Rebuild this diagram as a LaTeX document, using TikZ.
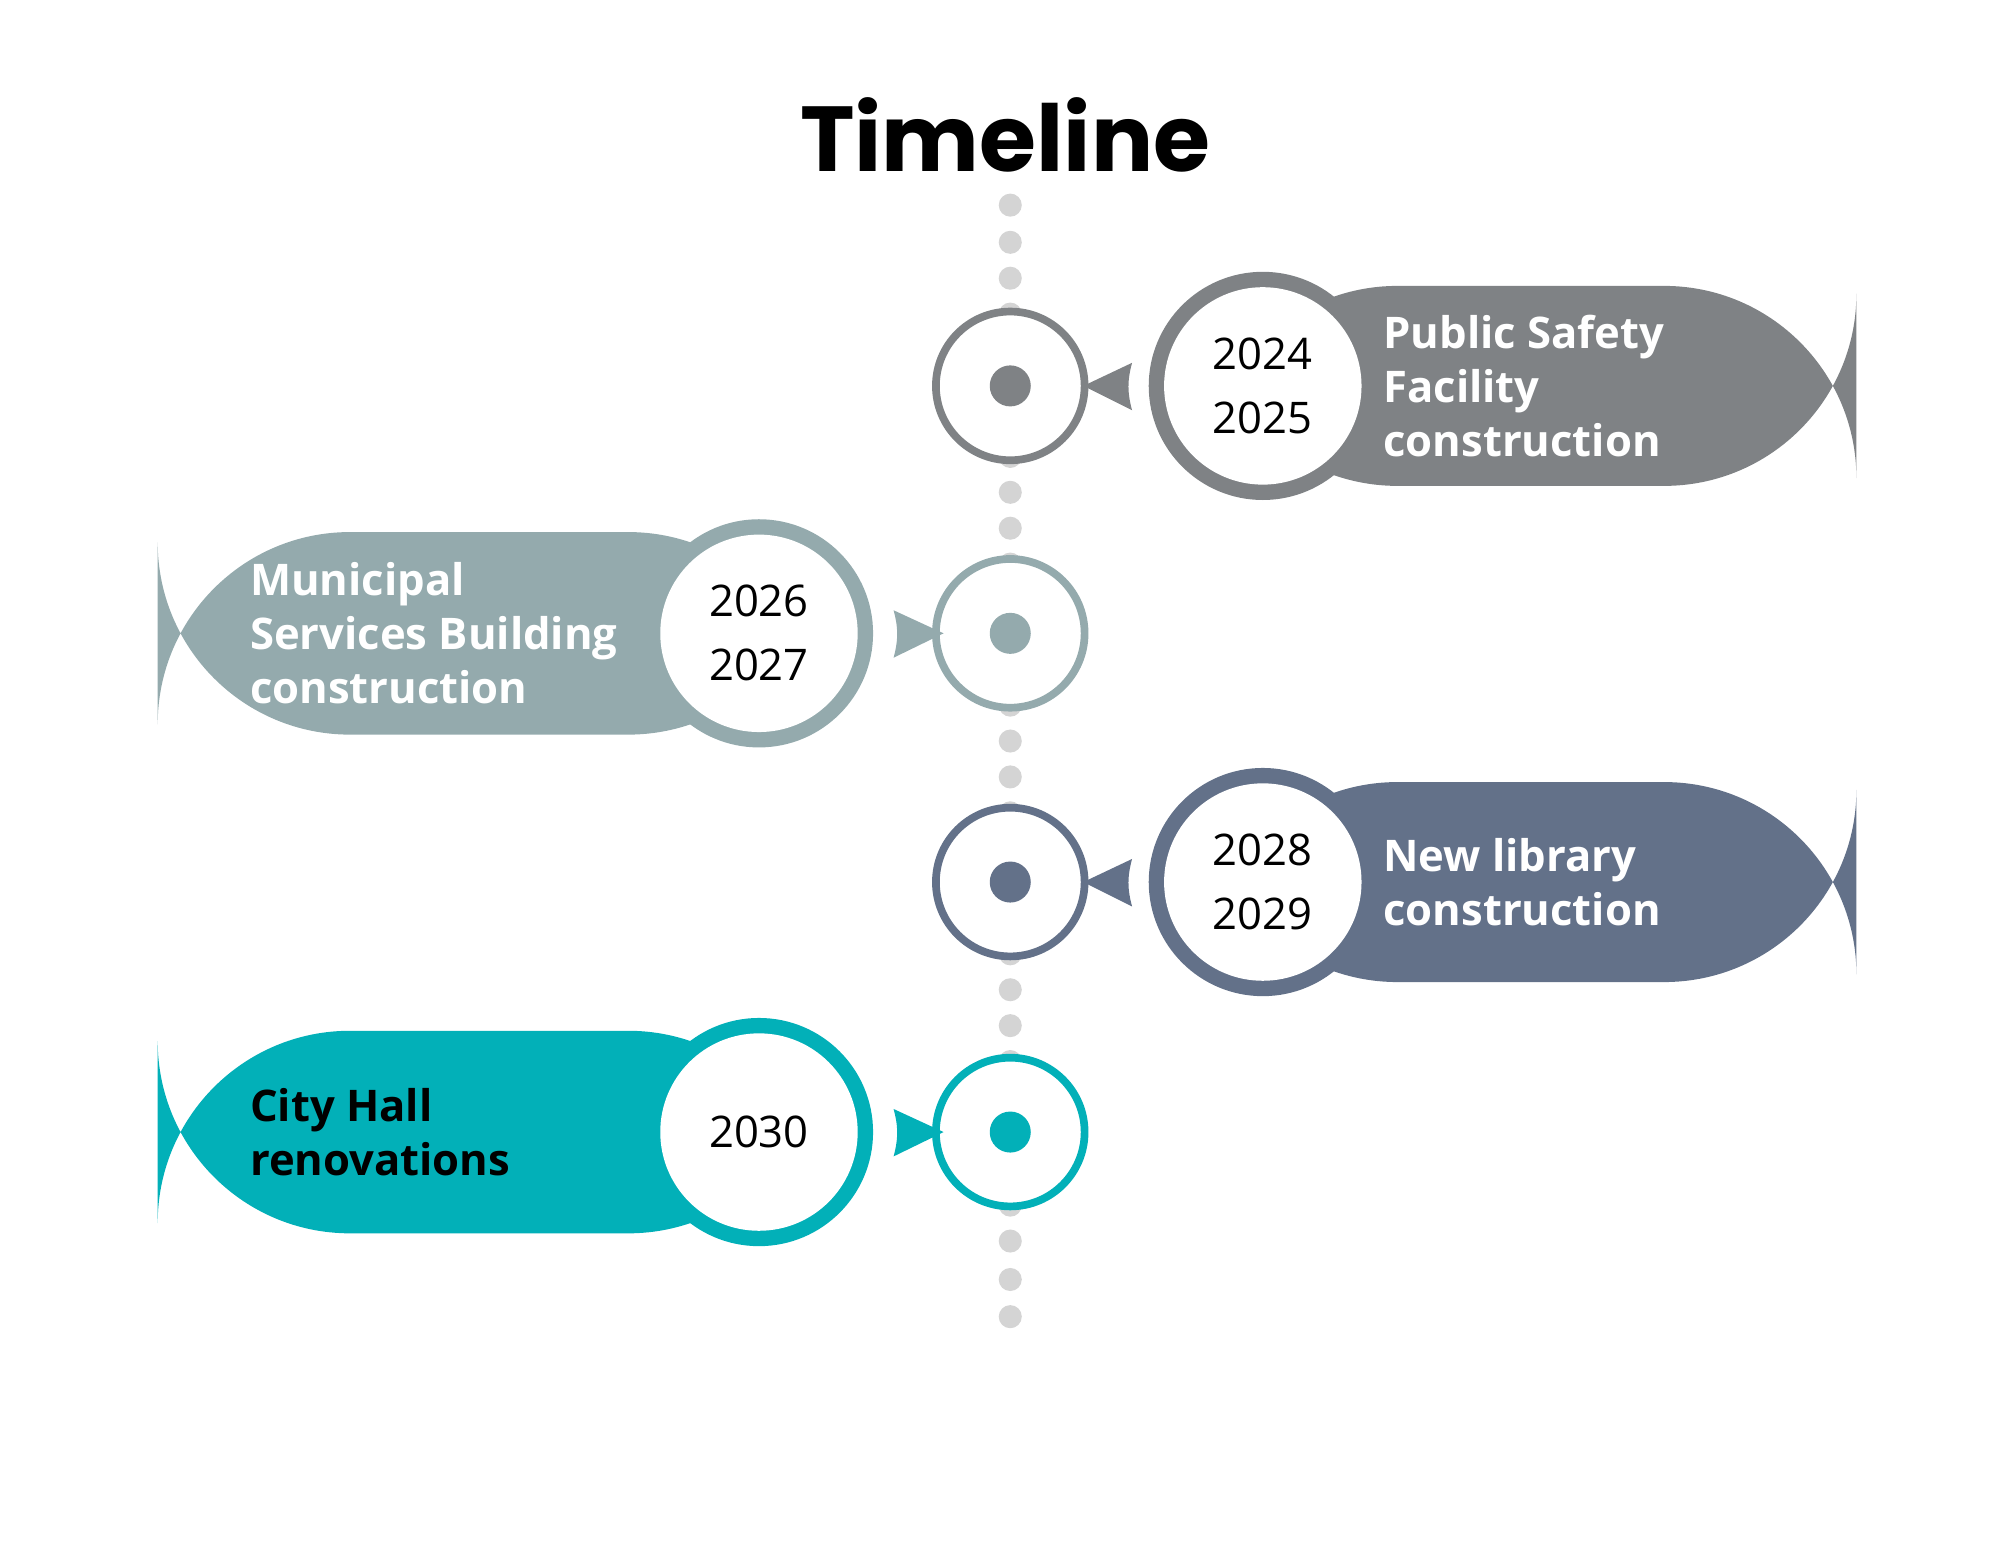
\documentclass[tikz,border=0pt]{standalone}
\usepackage{fontspec}
\setmainfont{Open Sans}
\newfontfamily\titlefont{Poppins}
\begin{document}
\begin{tikzpicture}[x=0.5pt,y=-0.5pt,
  dot/.style={circle,fill=black!17,minimum size=9pt,inner sep=0pt},
  lbl/.style={text=white,font=\bfseries\fontsize{17}{21}\selectfont,align=left,anchor=west},
  yr/.style={font=\fontsize{17}{25}\selectfont,align=center}]
\definecolor{cA}{HTML}{7F8285}\definecolor{cB}{HTML}{94AAAD}
\definecolor{cC}{HTML}{637189}\definecolor{cD}{HTML}{02B0B8}
\useasboundingbox (0,0) rectangle (1560,1205);
\node[font=\titlefont\bfseries\fontsize{36}{40}\selectfont] (title) at (784,105) {Timeline};
% dots
\foreach \y [count=\i] in {160,189,217,245,356,384,412,440,550,578,606,634,744,772,800,828,940,968,998,1027}
  \node[dot] (d\i) at (788,\y) {};
% markers
\foreach \n/\y/\c in {m1/301/cA,m2/494/cB,m3/688/cC,m4/883/cD}{
  \node[circle,draw=\c,line width=3pt,fill=white,minimum size=58pt,inner sep=0pt] (\n) at (788,\y) {};
  \fill[\c] (\n.center) circle (16);
}
% right pills
\foreach \n/\y/\c/\t/\tx in {p1/301/cA/{2024\\2025}/{Public Safety\\Facility\\construction},p3/688/cC/{2028\\2029}/{New library\\construction}}{
  \fill[\c,rounded corners=75] (940,\y-78) rectangle (1448,\y+78);
  \fill[\c] (985,\y) circle (89);
  \node[circle,fill=white,minimum size=77pt,inner sep=0pt,yr] (\n) at (985,\y) {\t};
  \node[lbl] (\n t) at (1072,\y) {\tx};
  \fill[\c] (845,\y) -- (883,\y-18) to[bend right=15] (883,\y+19) -- cycle;
}
% left pills
\foreach \n/\y/\c/\t/\tx/\tc in {p2/494/cB/{2026\\2027}/{Municipal\\Services Building\\construction}/white,p4/883/cD/{2030}/{City Hall\\renovations}/black}{
  \fill[\c,rounded corners=75] (123,\y-79) rectangle (640,\y+79);
  \fill[\c] (592,\y) circle (89);
  \node[circle,fill=white,minimum size=77pt,inner sep=0pt,yr] (\n) at (592,\y) {\t};
  \node[lbl,text=\tc] (\n t) at (188,\y) {\tx};
  \fill[\c] (736,\y) -- (697,\y-18) to[bend left=15] (697,\y+19) -- cycle;
}
\end{tikzpicture}
\end{document}
